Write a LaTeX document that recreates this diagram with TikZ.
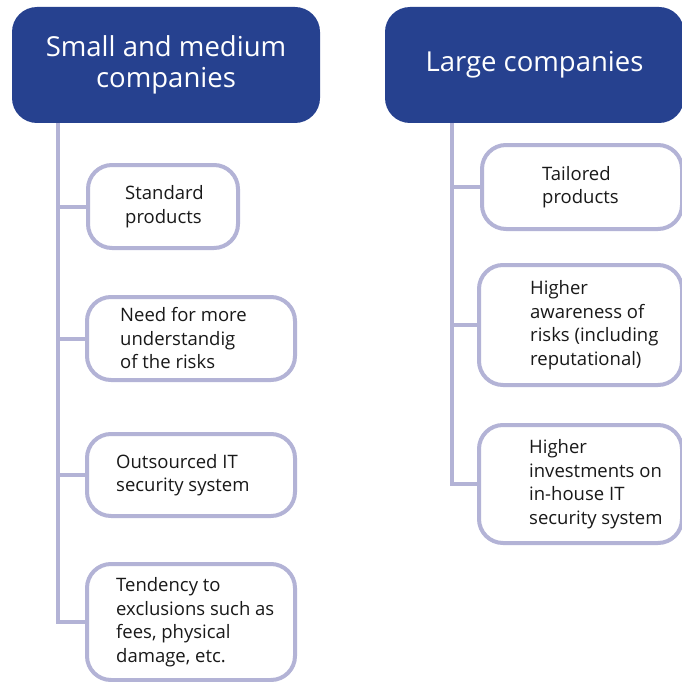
\documentclass[tikz,border=0pt]{standalone}
\usepackage{fontspec}
\setmainfont{Open Sans}
\definecolor{hdrblue}{RGB}{38,65,143}
\definecolor{lilac}{RGB}{179,179,214}
\tikzset{
  header/.style={fill=hdrblue, rounded corners=25pt, text=white, align=center,
    font=\fontsize{27.5}{31}\selectfont, inner sep=0pt},
  leaf/.style={draw=lilac, line width=4pt, fill=white, rounded corners=24pt, inner sep=0pt},
  leaftext/.style={anchor=west, align=left, inner sep=0pt, text=black!90,
    font=\fontsize{18.5}{23.5}\selectfont},
  link/.style={draw=lilac, line width=4pt}
}
\begin{document}
\begin{tikzpicture}[x=1pt,y=-1pt]
\useasboundingbox (0,0) rectangle (681,682);

% headers
\node [header, minimum width=308, minimum height=116] (sm) at (166,65) {Small and medium\\companies};
\node [header, minimum width=299, minimum height=116] (lg) at (534.5,65) {Large companies};

\coordinate (smroot) at (58,123);
\coordinate (lgroot) at (452,123);

% small and medium
\node [leaf, minimum width=150, minimum height=83] (sm1) at (163,206.5) {};
\node [leaf, minimum width=208, minimum height=83] (sm2) at (191,338.5) {};
\node [leaf, minimum width=208, minimum height=82] (sm3) at (191,475) {};
\node [leaf, minimum width=208, minimum height=116] (sm4) at (191,622) {};

\draw [link] (smroot) |- (sm4.west);
\draw [link] (smroot |- sm1.west) -- (sm1.west);
\draw [link] (smroot |- sm2.west) -- (sm2.west);
\draw [link] (smroot |- sm3.west) -- (sm3.west);

\node [leaftext] (sm1t) at (125,206.5) {Standard\\products};
\node [leaftext] (sm2t) at (120,338.5) {Need for more\\understandig\\of the risks};
\node [leaftext] (sm3t) at (116,475) {Outsourced IT\\security system};
\node [leaftext] (sm4t) at (116,622) {Tendency to\\exclusions such as\\fees, physical\\damage, etc.};

% large (boxes run past the right edge)
\node [leaf, minimum width=200, minimum height=84] (lg1) at (582,187) {};
\node [leaf, minimum width=203, minimum height=120] (lg2) at (580.5,325) {};
\node [leaf, minimum width=203, minimum height=118] (lg3) at (580.5,484) {};

\draw [link] (lgroot) |- (lg3.west);
\draw [link] (lgroot |- lg1.west) -- (lg1.west);
\draw [link] (lgroot |- lg2.west) -- (lg2.west);

\node [leaftext] (lg1t) at (542,187) {Tailored\\products};
\node [leaftext] (lg2t) at (530,325) {Higher\\awareness of\\risks (including\\reputational)};
\node [leaftext] (lg3t) at (529,484) {Higher\\investments on\\in-house IT\\security system};

\end{tikzpicture}
\end{document}
